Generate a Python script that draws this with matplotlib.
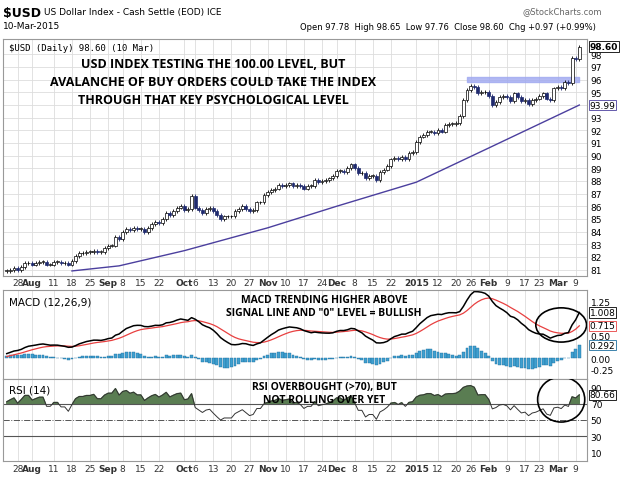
import matplotlib.pyplot as plt
from matplotlib.patches import Rectangle, Ellipse
import numpy as np
import pandas as pd

# closes before the visible window (Jun 23 - Jul 22), used only to seed MACD / RSI
warmup = [
    80.4, 80.5, 80.4, 80.3, 80.2,
    80.1, 80.0, 79.9, 80.1, 80.3,
    80.2, 80.3, 80.4, 80.2, 80.2,
    80.4, 80.5, 80.6, 80.6, 80.6,
    80.6, 80.7,
]
# daily closes by week (estimated from the chart)
closes = [
    80.9, 81.0, 81.1,
    81.0, 81.2, 81.5, 81.5, 81.4,
    81.5, 81.6, 81.6, 81.4, 81.4,
    81.6, 81.6, 81.5, 81.5, 81.4,
    81.7, 82.1, 82.3, 82.3, 82.4,
    82.4, 82.5, 82.4, 82.4, 82.7,
    82.9, 82.9, 83.6, 83.4,
    84.0, 84.2, 84.1, 84.3, 84.2,
    84.2, 84.0, 84.3, 84.6, 84.8,
    84.7, 85.0, 85.5, 85.3, 85.6,
    85.9, 86.0, 85.7, 85.8, 86.8,
    85.9, 85.7, 85.5, 85.8, 85.9,
    85.6, 85.3, 85.0, 85.2, 85.2,
    85.2, 85.6, 85.8, 86.0, 85.8,
    85.6, 85.7, 86.3, 86.3, 86.9,
    87.1, 87.3, 87.4, 87.7, 87.6,
    87.7, 87.8, 87.6, 87.7, 87.6,
    87.4, 87.6, 87.6, 88.1, 87.9,
    88.0, 88.1, 88.2, 88.4,
    88.8, 88.8, 88.7, 89.0, 89.3,
    89.0, 88.6, 88.6, 88.2, 88.4,
    88.4, 88.1, 88.7, 88.9, 89.2,
    89.7, 89.8, 89.7, 89.9,
    89.7, 90.2, 90.3, 91.1,
    91.5, 91.6, 91.9, 91.9, 91.8,
    92.0, 91.9, 92.4, 92.5, 92.5,
    92.6, 93.1, 94.4, 95.2,
    95.5, 95.4, 94.9, 95.0, 95.0,
    94.7, 94.0, 94.2, 94.6, 94.7,
    94.6, 94.3, 94.9, 94.6, 94.3,
    94.4, 94.1, 94.4, 94.5,
    94.7, 94.9, 94.5, 94.4, 95.3,
    95.4, 95.3, 95.8, 95.7, 97.7,
    97.6, 98.6,
]
holidays = ["2014-09-01", "2014-11-27", "2014-12-25", "2015-01-01", "2015-01-19", "2015-02-16"]
dates = pd.bdate_range("2014-07-23", "2015-03-10")
dates = dates[~dates.isin(pd.to_datetime(holidays))]
n = min(len(dates), len(closes))
dates = dates[-n:]
closes = np.array(closes[-n:])

ma_dates = ["2014-08-18", "2014-09-05", "2014-10-01", "2014-11-03", "2014-12-01", "2015-01-02", "2015-02-02", "2015-03-10"]
ma_vals = [80.9, 81.3, 82.5, 84.3, 86.0, 87.9, 90.6, 93.99]

tick_dates = ["2014-07-28", "2014-08-01", "2014-08-11", "2014-08-18", "2014-08-25", "2014-09-02",
              "2014-09-08", "2014-09-15", "2014-09-22", "2014-10-01", "2014-10-06", "2014-10-13",
              "2014-10-20", "2014-10-27", "2014-11-03", "2014-11-10", "2014-11-17", "2014-11-24",
              "2014-12-01", "2014-12-08", "2014-12-15", "2014-12-22", "2015-01-02", "2015-01-12",
              "2015-01-20", "2015-01-26", "2015-02-02", "2015-02-09", "2015-02-17", "2015-02-23",
              "2015-03-02", "2015-03-09"]
tick_labels = ["28", "Aug", "11", "18", "25", "Sep", "8", "15", "22", "Oct", "6", "13", "20", "27",
               "Nov", "10", "17", "24", "Dec", "8", "15", "22", "2015", "12", "20", "26", "Feb",
               "9", "17", "23", "Mar", "9"]

def idx(d):
    return int(np.searchsorted(dates, pd.Timestamp(d)))

x = np.arange(n)
opens = np.r_[closes[0], closes[:-1]]

def ema(a, span):
    return pd.Series(a).ewm(span=span, adjust=False).mean().values

full = np.r_[warmup, closes]
k = len(warmup)
macd_f = ema(full, 12) - ema(full, 26)
signal = ema(macd_f, 9)[k:]
macd = macd_f[k:]
hist = macd - signal
delta = np.diff(full, prepend=full[0])
gain = pd.Series(np.clip(delta, 0, None)).ewm(alpha=1/14, adjust=False).mean()
loss = pd.Series(np.clip(-delta, 0, None)).ewm(alpha=1/14, adjust=False).mean()
rsi = (100 - 100 / (1 + gain / loss.replace(0, 1e-9))).values[k:]

fig = plt.figure(figsize=(6.24, 4.81), dpi=100)
W, H = 624, 481
def box(top, bot):
    return [0.005, 1 - bot / H, 0.94 - 0.005, (bot - top) / H]
ax = fig.add_axes(box(40, 277))
am = fig.add_axes(box(291, 380))
ar = fig.add_axes(box(380, 462))
tx = [idx(d) for d in tick_dates]
for a in (ax, am, ar):
    a.set_xlim(-1, n + 1)
    a.yaxis.tick_right()
    a.tick_params(axis="y", labelsize=6.5, length=0, pad=3)
    a.set_xticks(tx)
    a.tick_params(axis="x", length=0)
    a.set_xticklabels([])
    for xv in tx:
        a.axvline(xv, color="#dddddd", lw=0.6, zorder=0)
    for s in a.spines.values():
        s.set_color("#999999")

# price
ax.set_ylim(80.5, 99.2)
ax.set_yticks(range(81, 99))
ax.grid(axis="y", color="#dddddd", lw=0.6)
ax.set_axisbelow(True)
for i in range(n):
    lo, hi = sorted([opens[i], closes[i]])
    up = closes[i] >= opens[i]
    ax.vlines(x[i], lo - 0.15, hi + 0.15, color="black" if up else "#1f2a6e", lw=0.6, zorder=2)
    ax.add_patch(Rectangle((x[i] - 0.4, lo), 0.8, max(hi - lo, 0.05),
                           facecolor="white" if up else "#1f2a6e",
                           edgecolor="black" if up else "#1f2a6e", lw=0.5, zorder=3))
ax.plot([idx(d) for d in ma_dates], ma_vals, color="#4b3f9e", lw=1, zorder=2)
ax.fill_between([idx("2015-01-23"), n - 1], 95.8, 96.2, color="#9fa8f0", alpha=0.8, zorder=1)
ax.text(0.01, 0.985, "$USD (Daily) 98.60 (10 Mar)", transform=ax.transAxes, fontsize=6.5,
        va="top", family="DejaVu Sans Mono")
ax.text(0.36, 0.82, "USD INDEX TESTING THE 100.00 LEVEL, BUT\nAVALANCHE OF BUY ORDERS COULD TAKE THE INDEX\nTHROUGH THAT KEY PSYCHOLOGICAL LEVEL",
        transform=ax.transAxes, fontsize=9, fontweight="bold", ha="center", va="center",
        linespacing=1.5, family="Open Sans")
ax.text(1.005, (98.6 - 80.5) / 18.7, "98.60", transform=ax.transAxes, fontsize=6.5,
        fontweight="bold", va="center", bbox=dict(fc="white", ec="black", pad=0.5, lw=0.6))
ax.text(1.005, (93.99 - 80.5) / 18.7, "93.99", transform=ax.transAxes, fontsize=6.5,
        va="center", bbox=dict(fc="white", ec="#4b3f9e", pad=0.5, lw=0.6))

# MACD
am.set_ylim(-0.45, 1.5)
am.set_yticks([-0.25, 0, 0.5, 1.25])
am.set_yticklabels(["-0.25", "0.00", "0.50", "1.25"])
am.bar(x, hist, width=0.8, color="#3fa0d0", edgecolor="#1f6f9f", lw=0.3)
am.plot(x, signal, color="#e84040", lw=0.9)
am.plot(x, macd, color="black", lw=1.1)
am.text(0.01, 0.93, "MACD (12,26,9)", transform=am.transAxes, fontsize=7.5, va="top")
am.text(0.55, 0.95, 'MACD TRENDING HIGHER ABOVE\nSIGNAL LINE AND "0" LEVEL = BULLISH',
        transform=am.transAxes, fontsize=7.5, fontweight="bold", ha="center", va="top",
        family="Open Sans")
for v, c in [(macd[-1], "black"), (signal[-1], "#e84040"), (hist[-1], "#1f6f9f")]:
    am.text(1.005, (v + 0.45) / 1.95, f"{v:.3f}", transform=am.transAxes, fontsize=6.5,
            va="center", bbox=dict(fc="white", ec=c, pad=0.5, lw=0.6))
am.add_patch(Ellipse((n - 6, macd[-3]), 14, 0.75, fill=False, ec="black", lw=1.2, zorder=5))

# RSI
ar.set_ylim(0, 100)
ar.set_yticks([10, 30, 50, 70, 90])
ar.axhline(70, color="#555555", lw=0.8)
ar.axhline(30, color="#555555", lw=0.8)
ar.axhline(50, color="#555555", lw=0.7, ls="-.")
ar.fill_between(x, 70, rsi, where=rsi > 70, color="#5a7d52", interpolate=True)
ar.plot(x, rsi, color="#333333", lw=0.7)
ar.text(0.01, 0.93, "RSI (14)", transform=ar.transAxes, fontsize=7.5, va="top")
ar.text(0.55, 0.97, "RSI OVERBOUGHT (>70), BUT\nNOT ROLLING OVER YET", transform=ar.transAxes,
        fontsize=7.5, fontweight="bold", ha="center", va="top", family="Open Sans")
ar.text(1.005, rsi[-1] / 100, f"{rsi[-1]:.2f}", transform=ar.transAxes, fontsize=6.5,
        va="center", bbox=dict(fc="white", ec="black", pad=0.5, lw=0.6))
ar.add_patch(Ellipse((n - 6, 75), 13, 55, fill=False, ec="black", lw=1.2, zorder=5))

# date labels
for ypix in (284, 470):
    for xv, lab in zip(tx, tick_labels):
        fx = 0.005 + 0.935 * (xv + 1) / (n + 2)
        bold = not lab.isdigit() or lab == "2015"
        fig.text(fx, 1 - ypix / H, lab, fontsize=6.5, ha="center", va="center",
                 fontweight="bold" if bold else "normal", color="#333333")

# header
fig.text(0.005, 0.985, "$USD", fontsize=9, fontweight="bold", va="top")
fig.text(0.07, 0.983, "US Dollar Index - Cash Settle (EOD) ICE", fontsize=6.5, va="top")
fig.text(0.005, 0.955, "10-Mar-2015", fontsize=6.5, va="top")
fig.text(0.955, 0.952, "Open 97.78  High 98.65  Low 97.76  Close 98.60  Chg +0.97 (+0.99%)",
         fontsize=6, va="top", ha="right")
fig.text(0.965, 0.985, "@StockCharts.com", fontsize=6, va="top", ha="right", color="#666666")

fig.savefig("out.png", dpi=100, facecolor="white")
